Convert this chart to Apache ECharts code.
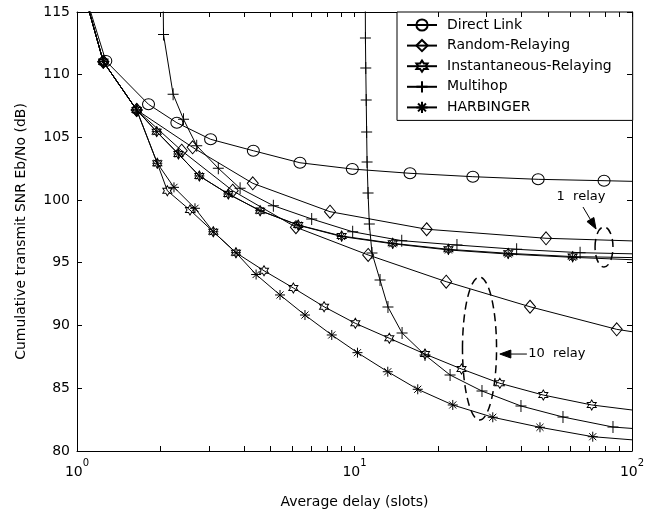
<!DOCTYPE html>
<html>
<head>
<meta charset="utf-8">
<script src="https://cdn.jsdelivr.net/npm/echarts@6/dist/echarts.min.js"></script>
<style>
  html, body { margin: 0; padding: 0; background: #fff; }
  #chart { width: 652px; height: 510px; }
</style>
</head>
<body>
<div id="chart"></div>
<script>
// Average delay (slots) vs. cumulative transmit SNR (dB) for each scheme.
// "1" = one relay, "10" = ten relays.
const directX = [1.0, 1.27, 1.81, 2.29, 3.03, 4.32, 6.36, 9.82, 15.85, 26.7, 45.9, 79.3, 100];
const directY = [118.5, 111.1, 107.64, 106.17, 104.85, 103.94, 102.98, 102.48, 102.14, 101.87, 101.66, 101.55, 101.5];

const random1X = [1.0, 1.244, 1.641, 2.61, 4.30, 8.16, 18.2, 49.0, 100];
const random1Y = [118.5, 111.04, 107.19, 104.21, 101.34, 99.08, 97.68, 96.96, 96.75];

const random10X = [1.0, 1.244, 1.641, 2.384, 3.64, 6.15, 11.2, 21.4, 42.9, 88.1, 100];
const random10Y = [118.5, 111.04, 107.19, 103.94, 100.75, 97.84, 95.63, 93.5, 91.5, 89.70, 89.51];

const instant1X = [1.0, 1.244, 1.641, 1.937, 2.32, 2.76, 3.51, 4.57, 6.27, 8.99, 13.73, 21.8, 35.8, 61.1, 100];
const instant1Y = [118.5, 111.04, 107.19, 105.46, 103.68, 101.93, 100.49, 99.16, 98.02, 97.14, 96.56, 96.08, 95.76, 95.50, 95.42];

const harb1X = [1.0, 1.244, 1.641, 1.937, 2.32, 2.76, 3.51, 4.57, 6.27, 8.99, 13.73, 21.8, 35.8, 61.1, 100];
const harb1Y = [118.5, 111.04, 107.19, 105.46, 103.68, 101.93, 100.49, 99.16, 98.0, 97.1, 96.52, 96.03, 95.70, 95.44, 95.25];

const multihop1X = [2.04, 2.05, 2.22, 2.42, 2.70, 3.23, 3.87, 5.10, 7.01, 9.85, 14.8, 23.4, 38.4, 65.0, 100];
const multihop1Y = [118, 113.2, 108.44, 106.45, 104.34, 102.54, 100.94, 99.56, 98.50, 97.48, 96.77, 96.42, 96.08, 95.81, 95.72];

const instant10X = [1.0, 1.244, 1.641, 1.947, 2.116, 2.554, 3.099, 3.74, 4.72, 6.02, 7.77, 10.07, 13.35, 17.95, 24.3, 33.4, 47.9, 71.6, 100];
const instant10Y = [118.5, 111.04, 107.19, 102.94, 100.75, 99.21, 97.48, 95.81, 94.37, 93.0, 91.5, 90.18, 88.99, 87.73, 86.54, 85.40, 84.46, 83.67, 83.27];

const harb10X = [1.0, 1.244, 1.641, 1.947, 2.236, 2.662, 3.099, 3.74, 4.42, 5.39, 6.63, 8.28, 10.25, 13.18, 16.9, 22.6, 31.5, 46.6, 72.2, 100];
const harb10Y = [118.5, 111.04, 107.19, 102.94, 101.02, 99.35, 97.48, 95.81, 94.07, 92.44, 90.84, 89.25, 87.84, 86.32, 84.92, 83.67, 82.69, 81.89, 81.14, 80.89];

const multihop10X = [10.93, 10.95, 10.98, 11.02, 11.06, 11.1, 11.19, 11.31, 11.56, 12.36, 13.2, 14.84, 17.95, 22.1, 28.8, 39.8, 56.4, 85.4, 100];
const multihop10Y = [118, 112.93, 110.54, 107.98, 105.43, 103.04, 100.57, 98.10, 95.79, 93.63, 91.48, 89.41, 87.65, 86.06, 84.78, 83.59, 82.71, 81.91, 81.8];

const legendNames = ['Direct Link', 'Random-Relaying', 'Instantaneous-Relaying', 'Multihop', 'HARBINGER'];
const xMajorTicks = [1, 10, 100];
const xTicks = [1, 2, 3, 4, 5, 6, 7, 8, 9, 10, 20, 30, 40, 50, 60, 70, 80, 90, 100];
const yTicks = [80, 85, 90, 95, 100, 105, 110, 115];
const X_MIN = 1, X_MAX = 100, Y_MIN = 80, Y_MAX = 115, Y_STEP = 5;

const FONT = 'DejaVu Sans';
const TICK_LEN = 5;

// marker shapes (stroked outlines)
const SYM_PLUS = 'path://M0,5L10,5M5,0L5,10';
const SYM_AST = 'path://M5,0L5,10M0,5L10,5M1.46,1.46L8.54,8.54M1.46,8.54L8.54,1.46';
function hexagramPath() {
  const pts = [];
  for (let i = 0; i < 12; i++) {
    const a = -Math.PI / 2 + i * Math.PI / 6;
    const r = i % 2 === 0 ? 10 : 10 / Math.sqrt(3);
    pts.push((10 + r * Math.cos(a)).toFixed(2) + ',' + (10 + r * Math.sin(a)).toFixed(2));
  }
  return 'path://M' + pts.join('L') + 'Z';
}
const SYM_HEX = hexagramPath();

function makeSeries(name, xs, ys, symbol, size) {
  return {
    name: name,
    type: 'line',
    xAxisIndex: 0,
    yAxisIndex: 0,
    data: xs.map(function (x, i) {
      const y = ys[i];
      // end points lying on/over the frame carry no marker
      return (x >= X_MAX || y > Y_MAX) ? { value: [x, y], symbol: 'none' } : [x, y];
    }),
    symbol: symbol,
    symbolSize: size,
    showSymbol: true,
    clip: true,
    animation: false,
    lineStyle: { color: '#000', width: 1 },
    itemStyle: { color: 'rgba(255,255,255,0)', borderColor: '#000', borderWidth: 1 },
    emphasis: { disabled: true }
  };
}

const chart = echarts.init(document.getElementById('chart'), null, { renderer: 'canvas' });

const xAxisCommon = {
  type: 'log', logBase: 10, min: X_MIN, max: X_MAX,
  axisLine: { show: true, onZero: false, lineStyle: { color: '#000', width: 1 } },
  axisTick: { show: false },
  minorTick: { show: false },
  splitLine: { show: false }
};

const yAxisCommon = {
  type: 'value', min: Y_MIN, max: Y_MAX, interval: Y_STEP,
  axisLine: { show: true, onZero: false, lineStyle: { color: '#000', width: 1 } },
  axisTick: { show: false },
  splitLine: { show: false }
};

chart.setOption({
  animation: false,
  backgroundColor: '#fff',
  textStyle: { fontFamily: FONT },
  grid: { left: 77, top: 12, right: 20, bottom: 59, containLabel: false, outerBoundsMode: 'none' },
  xAxis: [
    Object.assign({}, xAxisCommon, {
      position: 'bottom',
      name: 'Average delay (slots)',
      nameLocation: 'middle',
      nameGap: 44,
      nameTextStyle: { fontFamily: FONT, fontSize: 14, color: '#000' },
      axisLabel: {
        show: true,
        customValues: xMajorTicks,
        margin: 7,
        formatter: function (v) {
          return '{b|10}{s|' + Math.round(Math.log10(v)) + '}';
        },
        rich: {
          b: { fontFamily: FONT, fontSize: 14, color: '#000' },
          s: { fontFamily: FONT, fontSize: 10, color: '#000', padding: [0, 0, 18, 0] }
        }
      }
    }),
    Object.assign({}, xAxisCommon, { position: 'top', axisLabel: { show: false } })
  ],
  yAxis: [
    Object.assign({}, yAxisCommon, {
      position: 'left',
      name: 'Cumulative transmit SNR Eb/No (dB)',
      nameLocation: 'middle',
      nameGap: 49,
      nameTextStyle: { fontFamily: FONT, fontSize: 14, color: '#000' },
      axisLabel: { show: true, margin: 7, fontFamily: FONT, fontSize: 14, color: '#000' }
    }),
    Object.assign({}, yAxisCommon, { position: 'right', axisLabel: { show: false } })
  ],
  legend: {
    data: legendNames,
    orient: 'vertical',
    left: 397,
    top: 12,
    padding: [6, 21, 6, 9],
    itemGap: 6.6,
    itemWidth: 30,
    itemHeight: 14,
    selectedMode: false,
    backgroundColor: '#fff',
    borderColor: '#000',
    borderWidth: 1,
    borderRadius: 0,
    textStyle: { fontFamily: FONT, fontSize: 14, color: '#000', padding: [0, 0, 0, 5] }
  },
  series: [
    makeSeries('Direct Link', directX, directY, 'circle', [12, 11]),
    makeSeries('Random-Relaying', random1X, random1Y, 'diamond', [11, 13]),
    makeSeries('Random-Relaying', random10X, random10Y, 'diamond', [11, 13]),
    makeSeries('Instantaneous-Relaying', instant1X, instant1Y, SYM_HEX, [9, 10]),
    makeSeries('Instantaneous-Relaying', instant10X, instant10Y, SYM_HEX, [9, 10]),
    makeSeries('Multihop', multihop1X, multihop1Y, SYM_PLUS, [11, 12]),
    makeSeries('Multihop', multihop10X, multihop10Y, SYM_PLUS, [11, 12]),
    makeSeries('HARBINGER', harb1X, harb1Y, SYM_AST, [10, 10]),
    makeSeries('HARBINGER', harb10X, harb10Y, SYM_AST, [10, 10])
  ]
});

function toPx(p) { return chart.convertToPixel({ gridIndex: 0 }, p); }
function crisp(v) { return Math.round(v - 0.5) + 0.5; }

const graphics = [];

// inward tick marks on all four sides of the frame
function tickLine(x1, y1, x2, y2) {
  return { type: 'line', silent: true, z: 40, shape: { x1: x1, y1: y1, x2: x2, y2: y2 }, style: { stroke: '#000', lineWidth: 1 } };
}
xTicks.forEach(function (v) {
  const b = toPx([v, Y_MIN]), t = toPx([v, Y_MAX]);
  const px = crisp(b[0]);
  graphics.push(tickLine(px, b[1], px, b[1] - TICK_LEN));
  graphics.push(tickLine(px, t[1], px, t[1] + TICK_LEN));
});
yTicks.forEach(function (v) {
  const l = toPx([X_MIN, v]), r = toPx([X_MAX, v]);
  const py = crisp(l[1]);
  graphics.push(tickLine(l[0], py, l[0] + TICK_LEN, py));
  graphics.push(tickLine(r[0], py, r[0] - TICK_LEN, py));
});

// Dashed ellipses grouping the curves, with arrow call-outs (given in data coordinates).
const groupNotes = [
  { label: '1  relay', box: [73.6, 85.4, 97.86, 94.67], tail: [66.6, 99.45], tip: [74.2, 97.70], text: [65.5, 100.25], align: 'center' },
  { label: '10  relay', box: [24.5, 32.5, 93.87, 82.47], tail: [41.8, 87.73], tip: [33.4, 87.73], text: [42.3, 87.73], align: 'left' }
];

groupNotes.forEach(function (n) {
  const a = toPx([n.box[0], n.box[2]]);
  const b = toPx([n.box[1], n.box[3]]);
  graphics.push({
    type: 'ellipse', silent: true, z: 50,
    shape: { cx: (a[0] + b[0]) / 2, cy: (a[1] + b[1]) / 2, rx: Math.abs(b[0] - a[0]) / 2, ry: Math.abs(b[1] - a[1]) / 2 },
    style: { fill: 'none', stroke: '#000', lineWidth: 1.5, lineDash: [8, 5] }
  });
  const t0 = toPx(n.tail), t1 = toPx(n.tip);
  const dx = t1[0] - t0[0], dy = t1[1] - t0[1];
  const len = Math.sqrt(dx * dx + dy * dy);
  const ux = dx / len, uy = dy / len;
  const headLen = 11, headW = 4;
  const bx = t1[0] - ux * headLen, by = t1[1] - uy * headLen;
  graphics.push({
    type: 'line', silent: true, z: 50,
    shape: { x1: t0[0], y1: t0[1], x2: bx, y2: by },
    style: { stroke: '#000', lineWidth: 1 }
  });
  graphics.push({
    type: 'polygon', silent: true, z: 50,
    shape: { points: [[t1[0], t1[1]], [bx - uy * headW, by + ux * headW], [bx + uy * headW, by - ux * headW]] },
    style: { fill: '#000', stroke: '#000', lineWidth: 1 }
  });
  const tp = toPx(n.text);
  graphics.push({
    type: 'text', silent: true, z: 50,
    x: tp[0], y: tp[1],
    style: { text: n.label, fill: '#000', fontFamily: FONT, fontSize: 13, align: n.align, verticalAlign: 'middle' }
  });
});
chart.setOption({ graphic: graphics });
</script>
</body>
</html>
